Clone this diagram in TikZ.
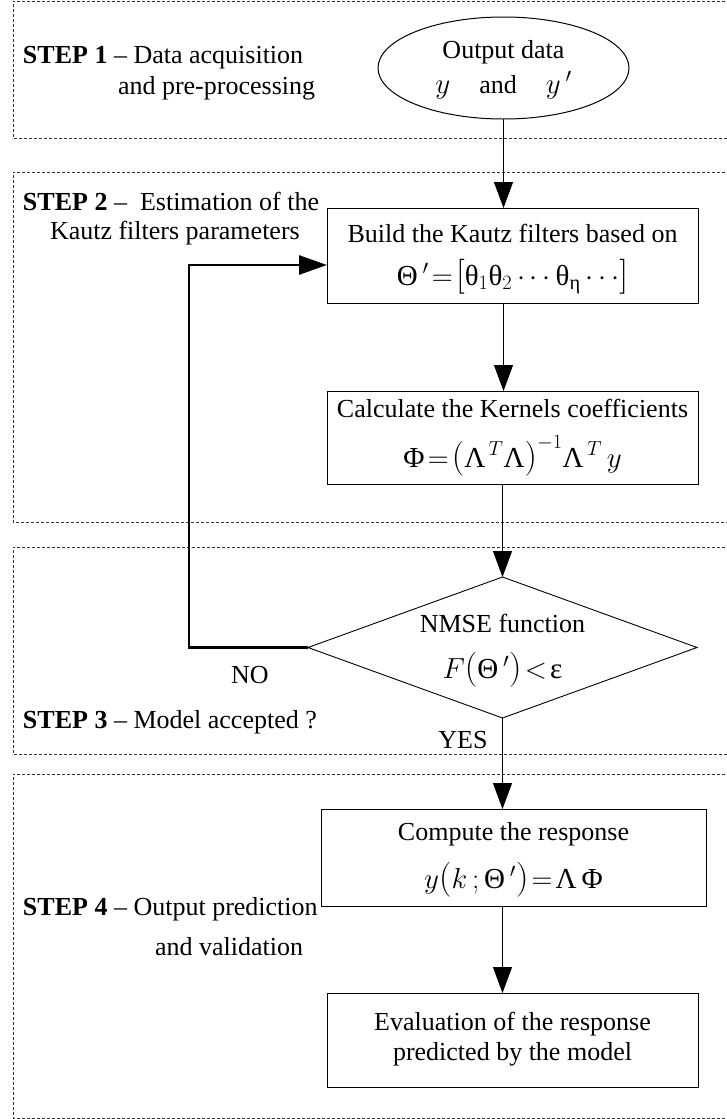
\RequirePackage{fix-cm}
\documentclass[tikz,border=0pt]{standalone}
\usepackage{amsmath}
\usepackage{fontspec}
\setmainfont{Liberation Serif}
\usetikzlibrary{arrows.meta,shapes.geometric}

% upright Greek letters taken from the text font
\newcommand{\gk}[1]{\text{#1}}
% formula line, set a little larger than the captions; its height is hidden
% and a fixed depth #1 is kept so that both lines sit where wanted
\newcommand{\fml}[2]{\smash{\fontsize{29}{32}\selectfont$#2$}\rule[-#1]{0pt}{#1}}
% fixed top of a caption's first line
\newcommand{\toprule}{\rule{0pt}{20pt}}
% slightly enlarged delimiters
\newcommand{\lft}[1]{\mathopen{\hbox{\fontsize{35}{35}\selectfont$#1$}}}
\newcommand{\rgt}[1]{\mathclose{\hbox{\fontsize{35}{35}\selectfont$#1$}}}

\begin{document}
\begin{tikzpicture}[x=1pt,y=-1pt,
  font=\fontsize{26}{30}\selectfont,
  every node/.style={inner sep=0pt, outer sep=0pt},
  stage/.style={draw=black!80, line width=0.8pt, dash pattern=on 3pt off 2pt},
  procbox/.style={draw, line width=1pt, rectangle, align=center},
  databox/.style={draw, line width=1pt, ellipse, align=center},
  testbox/.style={draw, line width=0.9pt, diamond, aspect=2.76, align=center},
  flow/.style={line width=1pt, -{Triangle[length=26pt,width=19pt]}},
  loopback/.style={line width=2.8pt, -{Triangle[length=28pt,width=19pt]}},
  steplabel/.style={anchor=base west}
]
\useasboundingbox (0,0) rectangle (726,1119);

% stage frames (open to the right)
\draw[stage] (740,1) -- (13,1) -- (13,138) -- (740,138);
\draw[stage] (740,172) -- (13,172) -- (13,522) -- (740,522);
\draw[stage] (740,547) -- (13,547) -- (13,754) -- (740,754);
\draw[stage] (740,774) -- (13,774) -- (13,1118) -- (740,1118);

% stage titles
\node[steplabel] (s1a) at (23,63) {\textbf{STEP 1} -- Data acquisition};
\node[steplabel] (s1b) at (118,94) {and pre-processing};
\node[steplabel] (s2a) at (23,210) {\textbf{STEP 2} --\ \ Estimation of the};
\node[steplabel] (s2b) at (50,239) {Kautz filters parameters};
\node[steplabel] (s3a) at (23,728) {\textbf{STEP 3} -- Model accepted ?};
\node[steplabel] (s4a) at (23,915) {\textbf{STEP 4} -- Output prediction};
\node[steplabel] (s4b) at (155,955) {and validation};

% flowchart blocks
\node[databox, minimum width=251pt, minimum height=102pt] (ell) at (503.5,68)
  {\toprule Output data\\[5pt]
   \fml{5pt}{y\quad\text{\fontsize{26}{30}\selectfont and}\quad y\,'}};
\node[procbox, minimum width=371pt, minimum height=95pt] (build) at (512.5,255.5)
  {\toprule Build the Kautz filters based on\\[13pt]
   \fml{4pt}{\gk{Θ}\,'\!=\!\lft[\gk{θ}_1\gk{θ}_2\cdots\gk{θ}_{\gk{η}}\cdots\rgt]}};
\node[procbox, minimum width=371pt, minimum height=93pt] (calc) at (512.5,437.5)
  {\toprule Calculate the Kernels coefficients\\[20pt]
   \fml{11pt}{\gk{Φ}\!=\!\lft(\gk{Λ}^{\,T}\gk{Λ}\rgt)^{-1}\gk{Λ}^{\,T}\,y}};
\node[testbox, minimum width=389pt, minimum height=141pt] (dec) at (502.5,647.5)
  {\toprule NMSE function\\[16pt] \fml{5pt}{F\lft(\gk{Θ}\,'\rgt)\!<\!\gk{ε}}};
\node[procbox, minimum width=385pt, minimum height=97pt] (comp) at (513.5,857.5)
  {\toprule Compute the response\\[18pt]
   \fml{7pt}{y\lft(k\,;\gk{Θ}\,'\rgt)\!=\!\gk{Λ}\,\gk{Φ}}};
\node[procbox, minimum width=371pt, minimum height=94pt] (eval) at (512.5,1040)
  {\toprule Evaluation of the response\\
   predicted by the model\rule[-10pt]{0pt}{10pt}};

% decision outcomes
\node[anchor=base] (no) at (250,683) {NO};
\node[anchor=base] (yes) at (463,748) {YES};

% main flow
\draw[flow] (ell.south) -- (ell.south |- build.north);
\draw[flow] (ell.south |- build.south) -- (ell.south |- calc.north);
\draw[flow] (dec.north |- calc.south) -- (dec.north);
\draw[flow] (dec.south) -- (dec.south |- comp.north);
\draw[flow] (dec.south |- comp.south) -- (dec.south |- eval.north);

% rejection loop back to the filter design
\coordinate (turn) at (189,647.5);
\draw[loopback] (dec.west) -- (turn) |- ([yshift=-9.5pt]build.west);
\end{tikzpicture}
\end{document}
